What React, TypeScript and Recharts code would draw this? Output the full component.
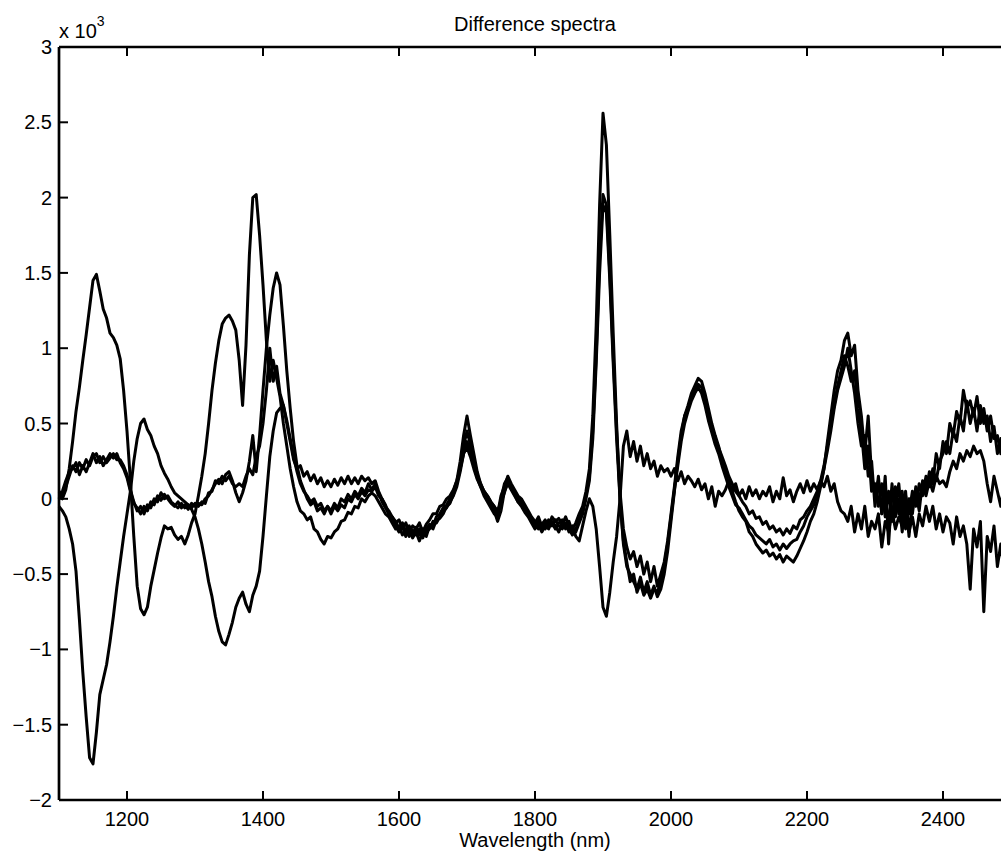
import React from "react";
import { LineChart, Line, XAxis, YAxis, Label } from "recharts";

// wavelength grid (nm), sampled every 5 nm
const wavelengths = Array.from({ length: 281 }, (_, i) => 1100 + 5 * i);

const xTicks = [1200, 1400, 1600, 1800, 2000, 2200, 2400];
const yTicks = [-2, -1.5, -1, -0.5, 0, 0.5, 1, 1.5, 2, 2.5, 3];

// values in units of 10^3, one row per 100 nm
const spectrumA = [
  [0.02, 0.0, 0.06, 0.2, 0.38, 0.58, 0.74, 0.92, 1.09, 1.27, 1.45, 1.49, 1.38, 1.26, 1.2, 1.1, 1.07, 1.02, 0.93, 0.72],
  [0.45, 0.12, -0.25, -0.58, -0.73, -0.77, -0.72, -0.58, -0.47, -0.36, -0.26, -0.18, -0.2, -0.19, -0.24, -0.27, -0.25, -0.3, -0.24, -0.16],
  [-0.1, 0.02, 0.15, 0.3, 0.5, 0.72, 0.9, 1.05, 1.16, 1.2, 1.22, 1.18, 1.12, 0.92, 0.62, 1.02, 1.62, 2.0, 2.02, 1.75],
  [1.42, 1.05, 0.78, 0.92, 0.8, 0.68, 0.5, 0.35, 0.2, 0.08, -0.02, -0.08, -0.1, -0.14, -0.12, -0.2, -0.22, -0.27, -0.3, -0.25],
  [-0.26, -0.22, -0.2, -0.15, -0.14, -0.09, -0.1, -0.05, -0.06, 0.0, -0.02, 0.02, 0.04, 0.02, -0.02, -0.06, -0.1, -0.12, -0.16, -0.2],
  [-0.18, -0.24, -0.2, -0.25, -0.21, -0.24, -0.2, -0.26, -0.2, -0.17, -0.18, -0.12, -0.1, -0.06, -0.04, 0.0, 0.05, 0.12, 0.25, 0.42],
  [0.55, 0.42, 0.3, 0.18, 0.1, 0.05, 0.02, -0.02, -0.05, -0.1, 0.02, 0.08, 0.15, 0.1, 0.06, 0.02, 0.0, -0.04, -0.08, -0.12],
  [-0.15, -0.2, -0.17, -0.14, -0.18, -0.12, -0.15, -0.13, -0.17, -0.12, -0.18, -0.2, -0.16, -0.1, -0.05, 0.05, 0.2, 0.55, 1.15, 1.95],
  [2.56, 2.35, 1.75, 1.1, 0.5, 0.0, -0.3, -0.45, -0.5, -0.55, -0.6, -0.52, -0.62, -0.55, -0.64, -0.58, -0.65, -0.6, -0.5, -0.35],
  [-0.15, 0.05, 0.25, 0.42, 0.55, 0.62, 0.7, 0.75, 0.8, 0.78, 0.7, 0.6, 0.5, 0.42, 0.35, 0.25, 0.18, 0.1, 0.05, -0.02],
  [-0.08, -0.12, -0.15, -0.22, -0.25, -0.3, -0.33, -0.36, -0.34, -0.38, -0.36, -0.4, -0.37, -0.42, -0.38, -0.4, -0.42, -0.38, -0.33, -0.28],
  [-0.22, -0.15, -0.1, -0.02, 0.08, 0.2, 0.38, 0.55, 0.72, 0.85, 0.92, 1.05, 1.1, 0.95, 1.02, 0.72, 0.55, 0.3, 0.55, 0.15],
  [0.05, 0.12, -0.1, 0.15, -0.3, 0.05, -0.05, 0.1, -0.15, 0.05, -0.25, 0.0, 0.05, -0.08, 0.12, 0.05, 0.18, 0.1, 0.3, 0.2],
  [0.38, 0.3, 0.5, 0.42, 0.58, 0.5, 0.72, 0.6, 0.65, 0.55, 0.68, 0.5, 0.6, 0.45, 0.55, 0.4, 0.42, 0.3, 0.35, 0.25],
  [0.3],
].flat();

const spectrumB = [
  [-0.05, -0.08, -0.12, -0.2, -0.3, -0.48, -0.8, -1.15, -1.45, -1.72, -1.76, -1.55, -1.3, -1.2, -1.1, -0.95, -0.78, -0.59, -0.42, -0.25],
  [-0.1, 0.05, 0.25, 0.4, 0.5, 0.53, 0.46, 0.42, 0.35, 0.3, 0.22, 0.17, 0.13, 0.08, 0.04, 0.02, 0.0, -0.02, -0.04, -0.07],
  [-0.12, -0.2, -0.3, -0.42, -0.55, -0.65, -0.78, -0.88, -0.95, -0.97, -0.9, -0.82, -0.72, -0.66, -0.62, -0.7, -0.75, -0.64, -0.58, -0.48],
  [-0.25, 0.02, 0.28, 0.45, 0.57, 0.6, 0.62, 0.52, 0.4, 0.28, 0.18, 0.1, 0.05, 0.02, -0.02, 0.0, -0.05, -0.03, -0.08, -0.05],
  [-0.1, -0.05, -0.08, -0.04, -0.06, 0.0, -0.02, 0.03, 0.0, 0.05, 0.02, 0.06, 0.05, 0.08, 0.02, 0.0, -0.05, -0.08, -0.12, -0.15],
  [-0.2, -0.16, -0.22, -0.18, -0.23, -0.19, -0.24, -0.2, -0.22, -0.2, -0.15, -0.16, -0.12, -0.08, -0.06, -0.02, 0.02, 0.08, 0.18, 0.3],
  [0.38, 0.32, 0.22, 0.14, 0.08, 0.04, 0.0, -0.04, -0.08, -0.15, -0.08, 0.05, 0.1, 0.06, 0.02, -0.02, -0.04, -0.06, -0.1, -0.14],
  [-0.18, -0.15, -0.2, -0.16, -0.15, -0.18, -0.14, -0.18, -0.2, -0.16, -0.22, -0.18, -0.25, -0.28, -0.18, -0.08, 0.0, -0.05, -0.2, -0.45],
  [-0.72, -0.78, -0.62, -0.42, -0.25, 0.0, 0.35, 0.45, 0.28, 0.38, 0.25, 0.35, 0.22, 0.3, 0.2, 0.25, 0.15, 0.22, 0.18, 0.2],
  [0.15, 0.2, 0.12, 0.18, 0.1, 0.15, 0.12, 0.08, 0.13, 0.06, 0.1, 0.0, 0.08, -0.05, 0.05, 0.02, 0.06, 0.12, 0.05, 0.1],
  [0.02, 0.06, 0.0, 0.08, 0.02, 0.06, 0.0, 0.05, 0.02, 0.08, -0.02, 0.05, 0.0, 0.14, 0.02, 0.06, -0.02, 0.05, 0.1, 0.04],
  [0.12, 0.05, 0.1, 0.06, 0.12, 0.08, 0.15, 0.05, 0.1, -0.02, -0.08, -0.1, -0.15, -0.05, -0.22, -0.1, -0.2, -0.05, -0.25, -0.15],
  [-0.2, -0.1, -0.32, -0.15, -0.22, -0.08, -0.2, -0.12, -0.18, -0.05, -0.22, -0.12, -0.25, -0.1, -0.18, -0.05, -0.15, -0.05, -0.2, -0.1],
  [-0.22, -0.12, -0.16, -0.3, -0.12, -0.25, -0.18, -0.3, -0.6, -0.2, -0.32, -0.15, -0.75, -0.25, -0.35, -0.18, -0.45, -0.3, -0.48, -0.25],
  [-0.35],
].flat();

const spectrumC = [
  [0.0, 0.05, 0.12, 0.18, 0.2, 0.24, 0.16, 0.22, 0.18, 0.24, 0.3, 0.24, 0.28, 0.22, 0.26, 0.3, 0.27, 0.3, 0.24, 0.2],
  [0.14, 0.05, -0.03, -0.06, -0.1, -0.05, -0.08, -0.02, -0.04, 0.02, -0.01, 0.03, 0.0, -0.03, -0.05, -0.02, -0.06, -0.04, -0.07, -0.03],
  [-0.05, -0.03, -0.04, 0.0, 0.02, 0.06, 0.1, 0.13, 0.1, 0.16, 0.18, 0.12, 0.04, -0.02, 0.04, 0.12, 0.25, 0.42, 0.18, 0.42],
  [0.72, 1.0, 1.22, 1.4, 1.5, 1.42, 1.15, 0.85, 0.6, 0.38, 0.22, 0.12, 0.06, 0.0, -0.04, -0.02, -0.08, -0.06, -0.1, -0.05],
  [-0.08, -0.03, -0.06, 0.0, -0.02, 0.03, 0.0, 0.05, 0.02, 0.07, 0.04, 0.1, 0.06, 0.1, 0.04, -0.02, -0.06, -0.1, -0.14, -0.18],
  [-0.22, -0.18, -0.25, -0.2, -0.26, -0.22, -0.28, -0.22, -0.25, -0.18, -0.2, -0.14, -0.13, -0.1, -0.05, -0.03, 0.03, 0.1, 0.2, 0.35],
  [0.45, 0.36, 0.26, 0.16, 0.1, 0.05, 0.02, -0.02, -0.05, -0.08, -0.02, 0.04, 0.12, 0.08, 0.04, 0.0, -0.02, -0.06, -0.1, -0.13],
  [-0.16, -0.12, -0.18, -0.2, -0.14, -0.16, -0.2, -0.16, -0.14, -0.2, -0.15, -0.22, -0.2, -0.14, -0.08, 0.02, 0.15, 0.45, 0.95, 1.6],
  [2.02, 1.95, 1.5, 0.95, 0.45, 0.05, -0.2, -0.32, -0.4, -0.35, -0.45, -0.38, -0.5, -0.42, -0.55, -0.45, -0.58, -0.5, -0.42, -0.28],
  [-0.1, 0.08, 0.28, 0.45, 0.55, 0.6, 0.68, 0.72, 0.76, 0.74, 0.66, 0.56, 0.48, 0.4, 0.34, 0.28, 0.22, 0.15, 0.1, 0.05],
  [0.02, -0.02, -0.05, -0.1, -0.08, -0.13, -0.12, -0.17, -0.15, -0.2, -0.18, -0.22, -0.2, -0.24, -0.2, -0.23, -0.18, -0.2, -0.14, -0.12],
  [-0.08, -0.05, 0.0, 0.05, 0.12, 0.22, 0.35, 0.5, 0.62, 0.75, 0.85, 0.95, 0.88, 0.78, 0.85, 0.6, 0.45, 0.2, 0.35, 0.05],
  [0.1, -0.05, 0.1, -0.12, 0.05, -0.15, 0.08, -0.1, 0.05, -0.2, 0.0, -0.1, 0.08, 0.0, 0.1, 0.02, 0.12, 0.05, 0.15, 0.1],
  [0.12, 0.08, 0.18, 0.25, 0.2, 0.3, 0.25, 0.32, 0.28, 0.35, 0.3, 0.32, 0.25, 0.1, -0.02, 0.15, 0.05, -0.05, 0.1, 0.0],
  [0.05],
].flat();

const spectrumD = [
  [0.05, 0.02, 0.08, 0.15, 0.22, 0.18, 0.24, 0.2, 0.26, 0.22, 0.28, 0.3, 0.24, 0.28, 0.24, 0.27, 0.3, 0.26, 0.26, 0.22],
  [0.16, 0.06, -0.02, -0.08, -0.05, -0.1, -0.04, -0.06, 0.0, -0.02, 0.04, 0.0, 0.02, -0.02, -0.04, -0.06, -0.03, -0.06, -0.04, -0.06],
  [-0.03, -0.05, -0.02, -0.03, 0.04, 0.05, 0.12, 0.1, 0.15, 0.12, 0.15, 0.1, 0.08, 0.1, 0.08, 0.15, 0.2, 0.16, 0.28, 0.35],
  [0.5, 0.72, 1.0, 0.78, 0.88, 0.7, 0.62, 0.5, 0.38, 0.26, 0.2, 0.22, 0.15, 0.18, 0.12, 0.16, 0.1, 0.14, 0.08, 0.12],
  [0.08, 0.13, 0.09, 0.14, 0.1, 0.15, 0.1, 0.14, 0.1, 0.15, 0.12, 0.14, 0.1, 0.12, 0.05, 0.0, -0.04, -0.1, -0.12, -0.16],
  [-0.14, -0.2, -0.16, -0.22, -0.18, -0.2, -0.16, -0.22, -0.17, -0.14, -0.1, -0.1, -0.05, -0.04, 0.0, 0.02, 0.06, 0.12, 0.2, 0.3],
  [0.34, 0.28, 0.2, 0.13, 0.08, 0.02, -0.02, -0.06, -0.1, -0.12, 0.0, 0.1, 0.14, 0.08, 0.03, -0.02, -0.05, -0.09, -0.12, -0.16],
  [-0.2, -0.17, -0.22, -0.18, -0.2, -0.15, -0.18, -0.22, -0.16, -0.18, -0.2, -0.24, -0.22, -0.16, -0.1, 0.0, 0.12, 0.4, 0.9, 1.5],
  [1.95, 1.9, 1.45, 0.9, 0.4, 0.0, -0.28, -0.42, -0.55, -0.5, -0.62, -0.56, -0.64, -0.6, -0.66, -0.6, -0.62, -0.55, -0.45, -0.3],
  [-0.12, 0.06, 0.22, 0.38, 0.5, 0.58, 0.65, 0.7, 0.74, 0.7, 0.62, 0.52, 0.44, 0.36, 0.3, 0.22, 0.15, 0.08, 0.02, -0.04],
  [-0.06, -0.1, -0.14, -0.18, -0.2, -0.24, -0.26, -0.28, -0.3, -0.27, -0.32, -0.3, -0.34, -0.3, -0.33, -0.3, -0.28, -0.27, -0.22, -0.18],
  [-0.12, -0.08, -0.04, 0.02, 0.1, 0.2, 0.32, 0.45, 0.6, 0.72, 0.8, 0.88, 1.0, 0.85, 0.7, 0.5, 0.35, 0.42, 0.15, 0.25],
  [-0.05, 0.15, -0.1, 0.05, -0.2, 0.1, -0.12, 0.0, -0.22, 0.02, -0.1, 0.05, -0.05, 0.1, 0.02, 0.15, 0.08, 0.2, 0.12, 0.25],
  [0.3, 0.38, 0.3, 0.45, 0.38, 0.55, 0.45, 0.65, 0.5, 0.6, 0.45, 0.62, 0.5, 0.55, 0.38, 0.48, 0.3, 0.4, 0.22, 0.3],
  [0.2],
].flat();

const data = wavelengths.map((w, i) => ({
  w,
  a: spectrumA[i],
  b: spectrumB[i],
  c: spectrumC[i],
  d: spectrumD[i],
}));

const FONT = "'Liberation Sans', Arial, Helvetica, sans-serif";
const AXIS = { stroke: "#000", strokeWidth: 2.7 };
const TICK_LEN = 9;

const fmtY = (v: number) => String(v).replace("-", "\u2212");

const BottomTick = (props: any) => {
  const { x, y, payload } = props;
  return (
    <g>
      <line x1={x} y1={y} x2={x} y2={y - TICK_LEN} stroke="#000" strokeWidth={2} />
      <text x={x} y={y + 26} textAnchor="middle" fontSize={20} fontFamily={FONT} fill="#000">
        {payload.value}
      </text>
    </g>
  );
};

const TopTick = (props: any) => {
  const { x, y } = props;
  return <line x1={x} y1={y} x2={x} y2={y + TICK_LEN} stroke="#000" strokeWidth={2} />;
};

const LeftTick = (props: any) => {
  const { x, y, payload } = props;
  return (
    <g>
      <line x1={x} y1={y} x2={x + TICK_LEN} y2={y} stroke="#000" strokeWidth={2} />
      <text x={x - 7} y={y + 7} textAnchor="end" fontSize={20} fontFamily={FONT} fill="#000">
        {fmtY(payload.value)}
      </text>
    </g>
  );
};

const RightTick = (props: any) => {
  const { x, y } = props;
  return <line x1={x} y1={y} x2={x - TICK_LEN} y2={y} stroke="#000" strokeWidth={2} />;
};

export default function App() {
  return (
    <div
      style={{
        position: "absolute",
        left: 0,
        top: 0,
        width: 1001,
        height: 855,
        overflow: "hidden",
        background: "#fff",
      }}
    >
      <LineChart
        width={1040}
        height={855}
        data={data}
        margin={{ top: 27, right: 9, bottom: 15, left: 8 }}
      >
        <XAxis
          dataKey="w"
          type="number"
          domain={[1100, 2500]}
          ticks={xTicks}
          interval={0}
          height={40}
          axisLine={AXIS}
          tickLine={false}
          tickSize={0}
          tickMargin={0}
          tick={<BottomTick />}
        >
          <Label
            content={() => (
              <text x={535} y={847} textAnchor="middle" fontSize={20} fontFamily={FONT} fill="#000">
                Wavelength (nm)
              </text>
            )}
          />
        </XAxis>
        <XAxis
          xAxisId="top"
          orientation="top"
          dataKey="w"
          type="number"
          domain={[1100, 2500]}
          ticks={xTicks}
          interval={0}
          height={20}
          axisLine={AXIS}
          tickLine={false}
          tickSize={0}
          tickMargin={0}
          tick={<TopTick />}
        >
          <Label
            content={() => (
              <text x={535} y={31} textAnchor="middle" fontSize={20} fontFamily={FONT} fill="#000">
                Difference spectra
              </text>
            )}
          />
        </XAxis>
        <YAxis
          type="number"
          domain={[-2, 3]}
          ticks={yTicks}
          interval={0}
          width={51}
          axisLine={AXIS}
          tickLine={false}
          tickSize={0}
          tickMargin={0}
          tick={<LeftTick />}
        >
          <Label
            content={() => (
              <text x={59} y={38} fontSize={20} fontFamily={FONT} fill="#000">
                x 10
                <tspan dy={-12} fontSize={14}>
                  3
                </tspan>
              </text>
            )}
          />
        </YAxis>
        <YAxis
          yAxisId="right"
          orientation="right"
          type="number"
          domain={[-2, 3]}
          ticks={yTicks}
          interval={0}
          width={20}
          axisLine={AXIS}
          tickLine={false}
          tickSize={0}
          tickMargin={0}
          tick={<RightTick />}
        />
        {["a", "b", "c", "d"].map((k) => (
          <Line
            key={k}
            dataKey={k}
            type="linear"
            stroke="#000"
            strokeWidth={3}
            strokeLinejoin="round"
            dot={false}
            activeDot={false}
            isAnimationActive={false}
          />
        ))}
      </LineChart>
    </div>
  );
}
